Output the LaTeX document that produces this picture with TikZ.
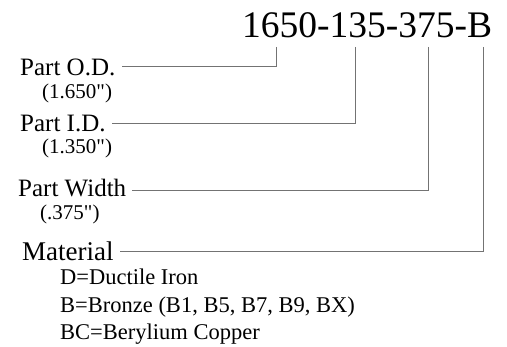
\documentclass[tikz,border=0pt]{standalone}
\usepackage{fontspec}
\setmainfont{Liberation Serif}
\tikzset{
  lbl/.style={anchor=base west, inner sep=0pt, font=\fontsize{25}{30}\selectfont},
  sub/.style={anchor=base west, inner sep=0pt, font=\fontsize{21}{25}\selectfont},
  mat/.style={anchor=base west, inner sep=0pt, font=\fontsize{22.5}{27}\selectfont},
  lead/.style={draw=black!55, line width=1pt}
}
\begin{document}
\begin{tikzpicture}[x=1pt,y=-1pt]
\useasboundingbox (0,0) rectangle (507,347);
\node[anchor=base west, inner sep=0pt, font=\fontsize{37.5}{45}\selectfont] (title) at (242,38) {1650-135-375-B};
\coordinate (t1) at (276,47);
\coordinate (t2) at (355,47);
\coordinate (t3) at (428,47);
\coordinate (t4) at (483,47);
\node[lbl] (od) at (20,76) {Part O.D.};
\node[sub] (odv) at (42,99) {(1.650\textquotedbl)};
\node[lbl] (id) at (20,132) {Part I.D.};
\node[sub] (idv) at (42,154) {(1.350\textquotedbl)};
\node[lbl] (pw) at (18,197) {Part Width};
\node[sub] (pwv) at (40,220) {(.375\textquotedbl)};
\node[anchor=base west, inner sep=0pt, font=\fontsize{27}{32}\selectfont] (mt) at (22,261) {Material};
\node[mat] (m1) at (60,285) {D=Ductile Iron};
\node[mat] (m2) at (60,313) {B=Bronze (B1, B5, B7, B9, BX)};
\node[mat] (m3) at (60,340) {BC=Berylium Copper};
\draw[lead] (t1) |- ([xshift=6pt]od.east |- 0,67);
\draw[lead] (t2) |- ([xshift=6pt]id.east |- 0,124);
\draw[lead] (t3) |- ([xshift=6pt]pw.east |- 0,191);
\draw[lead] (t4) |- ([xshift=6pt]mt.east |- 0,252);
\end{tikzpicture}
\end{document}
